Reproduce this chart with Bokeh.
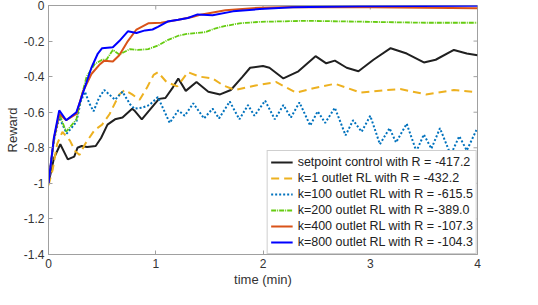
import math
from bokeh.plotting import figure
from bokeh.models import FixedTicker, Legend, LegendItem, Range1d
from bokeh.embed import file_html
from bokeh.resources import INLINE

# ---- data ----
x_sp = [0, 0.05, 0.11, 0.18, 0.24, 0.27, 0.31, 0.36, 0.44, 0.49, 0.55, 0.62, 0.69, 0.78, 0.80, 0.87, 0.94,
        1.03, 1.09, 1.16, 1.21, 1.28, 1.38, 1.49, 1.60, 1.70, 1.81, 1.88, 2.0, 2.06, 2.19, 2.33, 2.49, 2.59,
        2.67, 2.78, 2.89, 3.03, 3.19, 3.34, 3.50, 3.61, 3.78, 3.90, 4.0]
y_sp = [-1.0, -0.86, -0.78, -0.865, -0.85, -0.80, -0.79, -0.795, -0.79, -0.745, -0.67, -0.64, -0.63, -0.58,
        -0.59, -0.64, -0.59, -0.525, -0.52, -0.46, -0.41, -0.48, -0.43, -0.485, -0.50, -0.475, -0.40, -0.35,
        -0.34, -0.35, -0.41, -0.37, -0.285, -0.325, -0.31, -0.35, -0.37, -0.305, -0.24, -0.27, -0.32, -0.305,
        -0.25, -0.27, -0.28]

x_k1 = [0, 0.04, 0.08, 0.13, 0.20, 0.25, 0.29, 0.34, 0.43, 0.50, 0.57, 0.66, 0.71, 0.78, 0.85, 0.92, 0.98,
        1.02, 1.10, 1.20, 1.30, 1.41, 1.53, 1.63, 1.74, 1.93, 2.12, 2.31, 2.47, 2.67, 2.91, 3.15, 3.28, 3.52,
        3.78, 3.95]
y_k1 = [-1.01, -0.92, -0.78, -0.71, -0.76, -0.82, -0.84, -0.78, -0.70, -0.67, -0.61, -0.50, -0.475, -0.50,
        -0.53, -0.46, -0.39, -0.375, -0.43, -0.455, -0.375, -0.40, -0.41, -0.45, -0.475, -0.45, -0.43, -0.49,
        -0.465, -0.44, -0.49, -0.475, -0.47, -0.50, -0.475, -0.485]

x_k100 = [0, 0.05, 0.10, 0.17, 0.26, 0.30, 0.34, 0.38, 0.42, 0.47, 0.52, 0.62, 0.69, 0.76, 0.80, 0.87, 0.94,
          1.02, 1.13, 1.21, 1.27, 1.35, 1.45, 1.53, 1.59, 1.69, 1.78, 1.86, 1.92, 2.02, 2.11, 2.19, 2.26, 2.34,
          2.44, 2.51, 2.58, 2.67, 2.77, 2.84, 2.92, 3.0, 3.09, 3.18, 3.24, 3.34, 3.43, 3.50, 3.57, 3.65, 3.75,
          3.83, 3.90, 3.99]
y_k100 = [-1.0, -0.76, -0.63, -0.72, -0.655, -0.54, -0.485, -0.55, -0.595, -0.52, -0.475, -0.53, -0.485,
          -0.555, -0.58, -0.575, -0.56, -0.515, -0.66, -0.59, -0.62, -0.55, -0.635, -0.58, -0.635, -0.54, -0.64,
          -0.56, -0.62, -0.535, -0.64, -0.56, -0.63, -0.545, -0.675, -0.595, -0.66, -0.575, -0.73, -0.645,
          -0.71, -0.62, -0.78, -0.69, -0.77, -0.665, -0.82, -0.725, -0.805, -0.69, -0.84, -0.735, -0.815, -0.70]

x_k200 = [0, 0.05, 0.10, 0.165, 0.26, 0.30, 0.355, 0.43, 0.50, 0.54, 0.60, 0.66, 0.76, 0.83, 0.93, 1.02,
          1.11, 1.21, 1.29, 1.37, 1.46, 1.56, 1.65, 1.78, 1.97, 2.40, 2.9, 3.52, 4.0]
y_k200 = [-1.0, -0.76, -0.61, -0.71, -0.64, -0.53, -0.40, -0.33, -0.305, -0.305, -0.25, -0.275, -0.245,
          -0.25, -0.245, -0.225, -0.195, -0.17, -0.16, -0.155, -0.15, -0.128, -0.115, -0.10, -0.092, -0.086,
          -0.091, -0.097, -0.097]

x_k400 = [0, 0.05, 0.10, 0.165, 0.26, 0.32, 0.40, 0.48, 0.52, 0.60, 0.66, 0.74, 0.82, 0.93, 1.05, 1.21,
          1.34, 1.43, 1.65, 1.97, 2.28, 3.0, 4.0]
y_k400 = [-1.0, -0.75, -0.61, -0.645, -0.61, -0.485, -0.385, -0.33, -0.31, -0.315, -0.28, -0.20, -0.135,
          -0.10, -0.097, -0.08, -0.065, -0.05, -0.027, -0.012, -0.008, -0.01, -0.015]

x_k800 = [0, 0.05, 0.10, 0.165, 0.26, 0.30, 0.35, 0.40, 0.46, 0.50, 0.60, 0.66, 0.74, 0.82, 0.90, 0.97,
          1.02, 1.11, 1.21, 1.30, 1.39, 1.53, 1.72, 1.97, 2.28, 2.9, 4.0]
y_k800 = [-1.0, -0.745, -0.59, -0.645, -0.60, -0.53, -0.44, -0.35, -0.27, -0.24, -0.235, -0.20, -0.145,
          -0.155, -0.14, -0.135, -0.12, -0.09, -0.08, -0.07, -0.05, -0.055, -0.033, -0.02, -0.01, -0.004, -0.002]

legend_labels = ["setpoint control with R = -417.2",
                 "k=1 outlet RL with R = -432.2",
                 "k=100 outlet RL with R = -615.5",
                 "k=200 outlet RL with R =-389.0",
                 "k=400 outlet RL with R = -107.3",
                 "k=800 outlet RL with R = -104.3"]

xticks = [0, 1, 2, 3, 4]
xtick_labels = ["0", "1", "2", "3", "4"]
yticks = [0, -0.2, -0.4, -0.6, -0.8, -1, -1.2, -1.4]
ytick_labels = ["0", "-0.2", "-0.4", "-0.6", "-0.8", "-1", "-1.2", "-1.4"]

X_MIN, X_MAX = 0, 4
Y_MIN, Y_MAX = -1.4, 0

FONT = "Liberation Sans"
AXIS_COLOR = "#a0a0a0"
TEXT_COLOR = "#333333"

p = figure(width=522, height=289, x_range=Range1d(X_MIN, X_MAX), y_range=Range1d(Y_MIN, Y_MAX),
           output_backend="svg", toolbar_location=None,
           min_border_left=48, min_border_right=45, min_border_top=5, min_border_bottom=33)
p.grid.visible = False
p.outline_line_color = AXIS_COLOR
p.outline_line_width = 1
p.background_fill_color = "white"
p.border_fill_color = "white"


def style_axis(ax, ticks, labels):
    ax.ticker = FixedTicker(ticks=ticks)
    ax.major_label_overrides = dict(zip(ticks, labels))
    ax.axis_line_color = AXIS_COLOR
    ax.major_tick_line_color = AXIS_COLOR
    ax.major_tick_in = 4
    ax.major_tick_out = 0
    ax.minor_tick_line_color = None
    ax.major_label_text_font = FONT
    ax.major_label_text_color = TEXT_COLOR
    ax.major_label_text_font_size = "12px"
    ax.major_label_standoff = 4
    ax.axis_label_text_font = FONT
    ax.axis_label_text_font_size = "13px"
    ax.axis_label_text_font_style = "normal"
    ax.axis_label_text_color = TEXT_COLOR
    ax.axis_label_standoff = 1


style_axis(p.xaxis[0], xticks, xtick_labels)
style_axis(p.yaxis[0], yticks, ytick_labels)
p.xaxis.axis_label = "time (min)"
p.yaxis.axis_label = "Reward"

# inward ticks on the top and right edges of the box (clipped to the frame)
p.scatter(xticks, [Y_MAX] * len(xticks), marker="dash", size=8, angle=math.pi / 2,
          line_color=AXIS_COLOR, line_width=1)
p.scatter([X_MAX] * len(yticks), yticks, marker="dash", size=8,
          line_color=AXIS_COLOR, line_width=1)

r_sp = p.line(x_sp, y_sp, line_color="#202020", line_width=2)
r_k1 = p.line(x_k1, y_k1, line_color="#EDB120", line_width=2, line_dash="8 5")
r_k100 = p.line(x_k100, y_k100, line_color="#0072BD", line_width=2, line_dash="2 2")
r_k200 = p.line(x_k200, y_k200, line_color="#66CC11", line_width=1.8, line_dash="5 1 1 1")
r_k400 = p.line(x_k400, y_k400, line_color="#D95319", line_width=2)
r_k800 = p.line(x_k800, y_k800, line_color="#0000FF", line_width=2)

renderers = [r_sp, r_k1, r_k100, r_k200, r_k400, r_k800]
legend = Legend(items=[LegendItem(label=l, renderers=[r]) for l, r in zip(legend_labels, renderers)],
                location="bottom_right")
legend.margin = 0
legend.padding = 3
legend.spacing = 0
legend.glyph_width = 22
legend.glyph_height = 16
legend.label_height = 16
legend.label_standoff = 5
legend.label_text_font = FONT
legend.label_text_font_size = "12.5px"
legend.label_text_color = "#222222"
legend.border_line_color = AXIS_COLOR
legend.border_line_width = 1
legend.background_fill_color = "white"
legend.background_fill_alpha = 1
p.add_layout(legend)

open("out.html", "w").write(file_html(p, INLINE))
